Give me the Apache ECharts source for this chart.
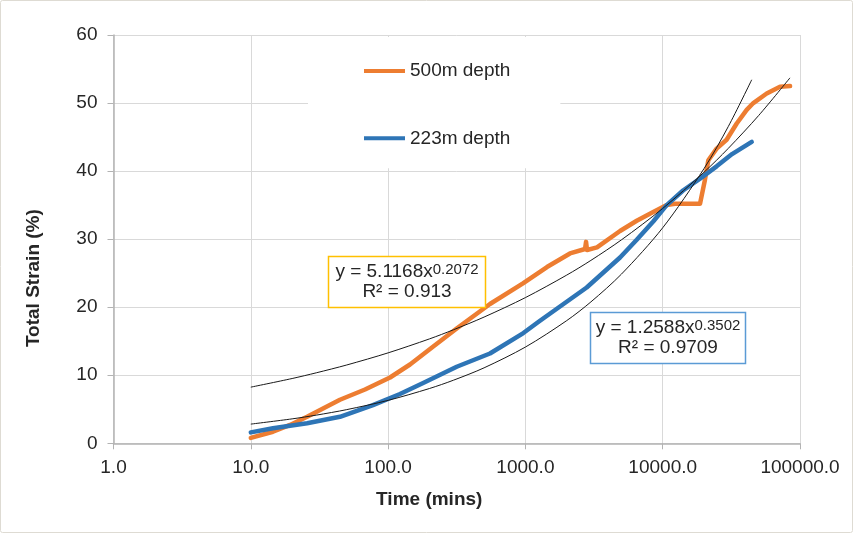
<!DOCTYPE html>
<html>
<head>
<meta charset="utf-8">
<script src="https://cdn.jsdelivr.net/npm/echarts@6/dist/echarts.min.js"></script>
<style>
html,body{margin:0;padding:0;background:#fff;}
#chart{width:853px;height:533px;}
</style>
</head>
<body>
<div id="chart"></div>
<script>
// ---- data ----
const orangeTime   = [10, 14.5, 19.3, 25.7, 44.6, 67.9, 103.3, 144.4, 202, 317.6, 552, 960, 1436, 2112, 2719, 2765, 2810, 3323, 4890, 6470, 8530, 10690, 12290, 18700, 20300, 21500, 24700, 29200, 34600, 40900, 45700, 57200, 71500, 84700];
const orangeStrain = [0.8, 1.7, 2.7, 3.9, 6.4, 7.9, 9.67, 11.58, 13.86, 16.9, 20.47, 23.5, 25.9, 27.9, 28.55, 29.6, 28.4, 28.8, 31.2, 32.7, 34.0, 35.0, 35.2, 35.2, 38.7, 41.6, 43.3, 44.6, 47.0, 49.0, 50.0, 51.4, 52.4, 52.5];

const blueTime   = [10, 14.5, 25.7, 44.6, 77.6, 122, 180, 316, 552, 966, 1277, 1597, 2795, 4890, 6470, 8530, 10690, 14060, 18700, 24700, 32000, 44500];
const blueStrain = [1.6, 2.2, 2.95, 3.9, 5.6, 7.25, 8.85, 11.25, 13.2, 16.2, 18.0, 19.4, 22.9, 27.3, 29.9, 32.6, 35.0, 37.15, 38.9, 40.7, 42.5, 44.3];

// power-law trend lines as drawn in the picture
const orangeFitTime   = [10, 20, 30, 50, 100, 200, 300, 500, 1000, 2000, 3000, 5000, 10000, 20000, 30000, 50000, 84500];
const orangeFitStrain = [8.25, 9.52, 10.36, 11.51, 13.29, 15.34, 16.69, 18.55, 21.41, 24.72, 26.88, 29.89, 34.51, 39.84, 43.33, 48.17, 53.7];

const blueFitTime   = [10, 20, 30, 50, 100, 200, 300, 500, 1000, 2000, 3000, 5000, 10000, 20000, 30000, 44500];
const blueFitStrain = [2.82, 3.59, 4.14, 4.95, 6.31, 8.05, 9.28, 11.09, 14.14, 18.03, 20.78, 24.85, 31.67, 40.37, 46.53, 53.42];

const seriesNames = ['500m depth', '223m depth'];
const orangeFitLabel = ['y = 5.1168x', '0.2072', 'R² = 0.913'];
const blueFitLabel   = ['y = 1.2588x', '0.3502', 'R² = 0.9709'];

const FONT = "'Liberation Sans', Arial, sans-serif";
const TXT = '#262626';

function pairs(xs, ys){ return xs.map((x,i)=>[x, ys[i]]); }

const chart = echarts.init(document.getElementById('chart'), null, {renderer:'canvas'});

function box(x, y, w, h, stroke, lines){
  return [
    {type:'rect', z:100, shape:{x:x, y:y, width:w, height:h},
     style:{fill:'#fff', stroke:stroke, lineWidth:1.5}},
    {type:'text', z:101, x: x + w/2, y: y + h/2,
     style:{
       text: '{m|' + lines[0] + '}{s|' + lines[1] + '}\n{m|' + lines[2] + '}',
       align:'center', verticalAlign:'middle',
       rich:{
         m:{fontSize:19, fontFamily:FONT, fill:TXT, lineHeight:20},
         s:{fontSize:15, fontFamily:FONT, fill:TXT, lineHeight:13, verticalAlign:'top'}
       }
     }}
  ];
}

const option = {
  animation:false,
  backgroundColor:'#fff',
  textStyle:{fontFamily:FONT},
  grid:{left:113.5, right:53, top:35, bottom:89.7, containLabel:false},
  legend:{
    data: seriesNames,
    orient:'vertical',
    left:308, top:37,
    padding:[24, 50, 20, 56],
    backgroundColor:'#fff',
    icon:'rect',
    itemWidth:41, itemHeight:4,
    itemGap:47.3,
    textStyle:{fontSize:19, fontFamily:FONT, color:TXT, lineHeight:20}
  },
  xAxis:{
    type:'log', logBase:10, min:1, max:100000,
    name:'Time (mins)', nameLocation:'middle', nameGap:47,
    nameTextStyle:{fontSize:19, fontWeight:'bold', color:TXT, fontFamily:FONT, padding:[0,55,0,0]},
    axisLine:{show:true, lineStyle:{color:'#b3b3b3', width:1.5}},
    axisTick:{show:true, length:6, lineStyle:{color:'#b3b3b3'}},
    axisLabel:{fontSize:19, color:TXT, fontFamily:FONT, margin:15,
      formatter:function(v){ return Number(v).toFixed(1); }},
    splitLine:{show:true, lineStyle:{color:'#d9d9d9', width:1}},
    minorTick:{show:false}
  },
  yAxis:{
    type:'value', min:0, max:60, interval:10,
    name:'Total Strain (%)', nameLocation:'middle', nameGap:70, nameRotate:90,
    nameTextStyle:{fontSize:19, fontWeight:'bold', color:TXT, fontFamily:FONT, padding:[0,78,0,0]},
    axisLine:{show:true, lineStyle:{color:'#b3b3b3', width:1.5}},
    axisTick:{show:true, length:6, lineStyle:{color:'#b3b3b3'}},
    axisLabel:{fontSize:19, color:TXT, fontFamily:FONT, margin:16},
    splitLine:{show:true, lineStyle:{color:'#d9d9d9', width:1}}
  },
  series:[
    {name:seriesNames[0], type:'line', data:pairs(orangeTime, orangeStrain),
     showSymbol:false, symbol:'none', z:2,
     itemStyle:{color:'#ED7D31'}, lineStyle:{color:'#ED7D31', width:4.5, join:'round', cap:'round'}},
    {name:seriesNames[1], type:'line', data:pairs(blueTime, blueStrain),
     showSymbol:false, symbol:'none', z:2,
     itemStyle:{color:'#2E75B6'}, lineStyle:{color:'#2E75B6', width:4.5, join:'round', cap:'round'}},
    {name:'fit500', type:'line', data:pairs(orangeFitTime, orangeFitStrain),
     showSymbol:false, symbol:'none', smooth:0.3, z:3,
     lineStyle:{color:'#1a1a1a', width:1}},
    {name:'fit223', type:'line', data:pairs(blueFitTime, blueFitStrain),
     showSymbol:false, symbol:'none', smooth:0.3, z:3,
     lineStyle:{color:'#1a1a1a', width:1}}
  ],
  graphic:[
    {type:'rect', z:200, silent:true, shape:{x:0.5, y:0.5, width:852, height:532, r:2},
     style:{fill:null, stroke:'#dedbd3', lineWidth:1}}
  ].concat(box(328.5, 256.5, 157, 51, '#FFC000', orangeFitLabel))
   .concat(box(590.5, 312.5, 155, 51, '#5B9BD5', blueFitLabel))
};
chart.setOption(option);
</script>
</body>
</html>
